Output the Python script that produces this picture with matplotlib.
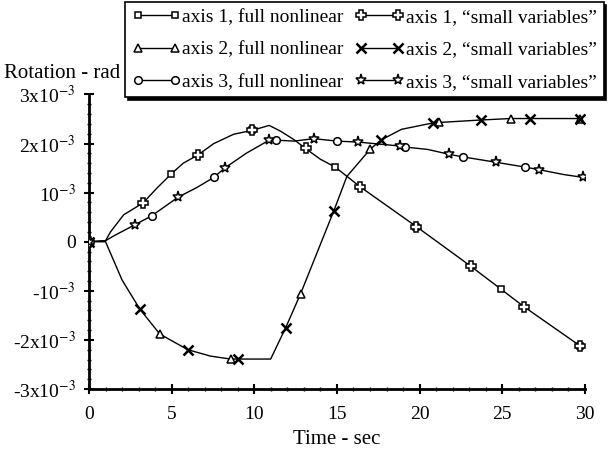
from matplotlib import pyplot as plt
from matplotlib.lines import Line2D
from matplotlib.ticker import MultipleLocator
import numpy as np

plt.rcParams['font.family'] = ['Liberation Serif', 'DejaVu Serif']
plt.rcParams['mathtext.fontset'] = 'stix'

# traced curves (time in s, rotation in 1e-3 rad)
curve1_t = [0, 1.0, 1.3, 2.1, 3.27, 4.1, 5.0, 5.7, 6.6, 7.55, 8.75, 9.88, 10.9, 11.6, 12.4, 13.1, 14.0, 14.9, 16.4, 19.8, 23.1, 24.9, 26.3, 29.7]
curve1_y = [0, 0.02, 0.2, 0.55, 0.79, 1.09, 1.39, 1.6, 1.77, 2.0, 2.19, 2.27, 2.37, 2.25, 2.08, 1.9, 1.68, 1.52, 1.12, 0.31, -0.5, -0.96, -1.32, -2.12]

curve2_t = [0, 1.0, 2.0, 3.07, 4.28, 5.98, 7.35, 8.56, 9.03, 10.99, 11.9, 12.8, 14.8, 15.6, 17.0, 17.65, 18.9, 20.8, 21.2, 23.7, 25.5, 26.7, 29.7]
curve2_y = [0, 0, -0.78, -1.37, -1.88, -2.2, -2.33, -2.39, -2.39, -2.39, -1.75, -1.06, 0.62, 1.33, 1.88, 2.07, 2.29, 2.42, 2.43, 2.48, 2.51, 2.51, 2.51]

curve3_t = [0, 1.0, 1.5, 2.8, 3.8, 5.4, 6.5, 7.55, 8.2, 9.55, 10.9, 11.3, 12.4, 13.6, 15.0, 16.3, 18.8, 19.1, 20.5, 21.8, 22.6, 24.6, 26.4, 27.2, 28.7, 29.9]
curve3_y = [0, 0.02, 0.12, 0.35, 0.53, 0.91, 1.1, 1.31, 1.5, 1.81, 2.07, 2.07, 2.05, 2.1, 2.05, 2.03, 1.95, 1.93, 1.88, 1.78, 1.73, 1.62, 1.52, 1.47, 1.37, 1.31]

# marker samples
a1_full_t = [0, 4.99, 9.88, 14.9, 19.8, 24.9, 29.7]
a1_full_y = [0, 1.39, 2.27, 1.52, 0.31, -0.96, -2.12]
a1_small_t = [0, 3.27, 6.6, 9.88, 13.1, 16.4, 19.8, 23.1, 26.3, 29.7]
a1_small_y = [0, 0.79, 1.77, 2.27, 1.9, 1.12, 0.31, -0.5, -1.32, -2.12]

a2_full_t = [0, 4.28, 8.56, 12.8, 17.0, 21.2, 25.5, 29.7]
a2_full_y = [0, -1.88, -2.39, -1.06, 1.88, 2.43, 2.51, 2.51]
a2_small_t = [0, 3.07, 5.98, 9.03, 11.9, 14.8, 17.65, 20.8, 23.7, 26.7, 29.7]
a2_small_y = [0, -1.37, -2.2, -2.39, -1.75, 0.62, 2.07, 2.42, 2.48, 2.51, 2.51]

a3_full_t = [0, 3.8, 7.55, 11.3, 15.0, 19.1, 22.6, 26.4]
a3_full_y = [0, 0.53, 1.31, 2.07, 2.05, 1.93, 1.73, 1.52]
a3_small_t = [0, 2.8, 5.4, 8.2, 10.9, 13.6, 16.3, 18.8, 21.8, 24.6, 27.2, 29.9]
a3_small_y = [0, 0.35, 0.91, 1.5, 2.07, 2.1, 2.03, 1.95, 1.78, 1.62, 1.47, 1.31]

labels = ['axis 1, full nonlinear', 'axis 2, full nonlinear', 'axis 3, full nonlinear',
          'axis 1, \u201csmall variables\u201d', 'axis 2, \u201csmall variables\u201d',
          'axis 3, \u201csmall variables\u201d']

yticks = [-3, -2, -1, 0, 1, 2, 3]
yticklabels = [r'-3x10$^{-3}$', r'-2x10$^{-3}$', r'-10$^{-3}$', '0',
               r'10$^{-3}$', r'2x10$^{-3}$', r'3x10$^{-3}$']

fig = plt.figure(figsize=(6.16, 4.51), dpi=100)
ax = fig.add_axes([0.1445, 0.1375, 0.805, 0.653])

sc = 1e-3
for t, y in [(curve1_t, curve1_y), (curve2_t, curve2_y), (curve3_t, curve3_y)]:
    ax.plot(t, np.array(y) * sc, color='black', lw=1.0, zorder=2)

styles = [
    (a1_full_t, a1_full_y, dict(marker='s', ms=5)),
    (a2_full_t, a2_full_y, dict(marker='^', ms=6)),
    (a3_full_t, a3_full_y, dict(marker='o', ms=5.5)),
    (a1_small_t, a1_small_y, dict(marker='P', ms=6.5)),
    (a2_small_t, a2_small_y, dict(marker='x', ms=6.5, mew=1.8)),
    (a3_small_t, a3_small_y, dict(marker='*', ms=8)),
]
handles = []
for (t, y, st), lab in zip(styles, labels):
    kw = dict(color='black', mfc='white', mec='black', mew=1.1)
    kw.update(st)
    ax.plot(t, np.array(y) * sc, ls='none', zorder=3, **kw)
    handles.append(Line2D([], [], ls='-', lw=1.0, label=lab, **kw))

ax.set_xlim(0, 30)
ax.set_ylim(-3e-3, 3e-3)
ax.set_xticks([0, 5, 10, 15, 20, 25, 30])
ax.set_yticks(np.array(yticks) * sc)
ax.set_yticklabels(yticklabels)
ax.xaxis.set_minor_locator(MultipleLocator(1))
ax.yaxis.set_minor_locator(MultipleLocator(0.2e-3))
for s in ['top', 'right']:
    ax.spines[s].set_visible(False)
for s in ['left', 'bottom']:
    ax.spines[s].set_linewidth(2.0)
ax.tick_params(which='major', direction='inout', length=7, width=1.5, labelsize=14, pad=6)
ax.tick_params(axis='x', which='major', pad=9)
ax.tick_params(which='minor', direction='inout', length=3, width=1.0)
ax.set_xlabel('Time - sec', fontsize=15, labelpad=5)
fig.text(0.006, 1 - 73 / 451, 'Rotation - rad', fontsize=15, va='center', ha='left')

leg = fig.legend(handles=handles, ncol=2, loc='upper left',
                 bbox_to_anchor=(0.203, 0.996),
                 fontsize=14, numpoints=2, handlelength=2.5, handletextpad=0.1,
                 columnspacing=0.6, labelspacing=0.75, borderpad=0.35,
                 borderaxespad=0.0,
                 fancybox=False, shadow={'color': 'black', 'alpha': 1.0},
                 framealpha=1, edgecolor='black')
leg.get_frame().set_linewidth(1.2)

fig.savefig('out.png', dpi=100)
